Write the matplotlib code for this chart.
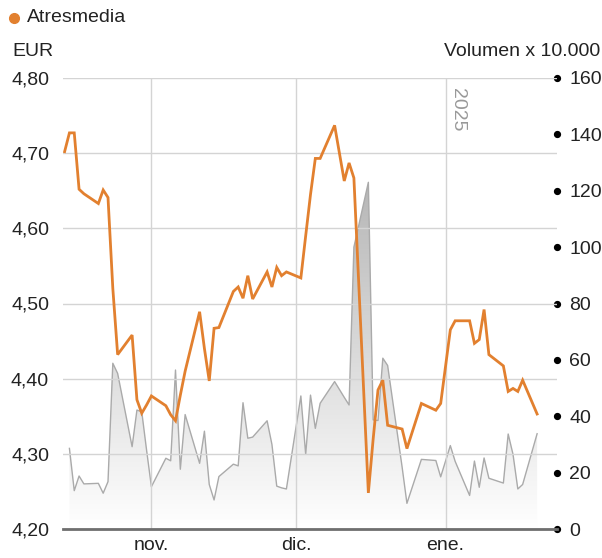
import matplotlib
matplotlib.use('Agg')
import matplotlib.pyplot as plt
import matplotlib.dates as mdates
from matplotlib.colors import LinearSegmentedColormap
from matplotlib.lines import Line2D
import numpy as np
import pandas as pd

plt.rcParams['font.family'] = ['Liberation Sans', 'DejaVu Sans']

# trading days shown
days = [
    '2024-10-14', '2024-10-15', '2024-10-16', '2024-10-17', '2024-10-18',
    '2024-10-21', '2024-10-22', '2024-10-23', '2024-10-24', '2024-10-25',
    '2024-10-28', '2024-10-29', '2024-10-30', '2024-10-31', '2024-11-01',
    '2024-11-04', '2024-11-05', '2024-11-06', '2024-11-07', '2024-11-08',
    '2024-11-11', '2024-11-12', '2024-11-13', '2024-11-14', '2024-11-15',
    '2024-11-18', '2024-11-19', '2024-11-20', '2024-11-21', '2024-11-22',
    '2024-11-25', '2024-11-26', '2024-11-27', '2024-11-28', '2024-11-29',
    '2024-12-02', '2024-12-03', '2024-12-04', '2024-12-05', '2024-12-06',
    '2024-12-09', '2024-12-10', '2024-12-11', '2024-12-12', '2024-12-13',
    '2024-12-16', '2024-12-17', '2024-12-18', '2024-12-19', '2024-12-20',
    '2024-12-23', '2024-12-24', '2024-12-27', '2024-12-30', '2024-12-31',
    '2025-01-02', '2025-01-03', '2025-01-06', '2025-01-07', '2025-01-08',
    '2025-01-09', '2025-01-10', '2025-01-13', '2025-01-14', '2025-01-15',
    '2025-01-16', '2025-01-17', '2025-01-20',
]
# closing price, EUR
price = [
    4.702, 4.727, 4.727, 4.652, 4.646, 4.633, 4.651, 4.641, 4.520, 4.432,
    4.458, 4.372, 4.354, 4.365, 4.377, 4.364, 4.352, 4.344, 4.378, 4.410,
    4.489, 4.440, 4.397, 4.467, 4.468, 4.516, 4.522, 4.507, 4.537, 4.506,
    4.542, 4.522, 4.548, 4.537, 4.542, 4.534, 4.590, 4.645, 4.693, 4.693,
    4.737, 4.700, 4.663, 4.687, 4.667, 4.248, 4.320, 4.385, 4.398, 4.338,
    4.333, 4.307, 4.367, 4.358, 4.367, 4.465, 4.477, 4.477, 4.447, 4.452,
    4.492, 4.432, 4.417, 4.383, 4.387, 4.383, 4.398, 4.353,
]
# volume x 10.000 (first day not shown)
volume = [
    np.nan, 28.6, 13.6, 18.8, 16.0, 16.2, 12.7, 16.8, 58.8, 55.2,
    29.2, 42.2, 41.6, 28.0, 15.0, 25.1, 24.2, 56.4, 21.2, 40.6,
    23.3, 34.7, 15.8, 10.3, 18.6, 23.0, 22.4, 44.8, 32.2, 32.6,
    38.4, 30.0, 15.2, 14.6, 14.2, 47.2, 26.5, 47.5, 35.7, 44.6,
    52.3, 49.5, 46.7, 44.0, 100.0, 123.0, 38.7, 38.5, 60.6, 58.0,
    22.0, 9.1, 24.7, 24.3, 18.5, 29.6, 24.0, 11.9, 24.1, 14.8,
    25.2, 18.0, 16.3, 33.7, 26.5, 14.2, 15.8, 33.8,
]
price_ticks = [4.2, 4.3, 4.4, 4.5, 4.6, 4.7, 4.8]
price_labels = ['4,20', '4,30', '4,40', '4,50', '4,60', '4,70', '4,80']
vol_ticks = [0, 20, 40, 60, 80, 100, 120, 140, 160]
month_ticks = ['2024-11-01', '2024-12-01', '2025-01-01']
month_labels = ['nov.', 'dic.', 'ene.']

x = pd.to_datetime(days)
orange = '#e2802f'
fs = 14

fig = plt.figure(figsize=(6.02, 5.58), dpi=100)
ax = fig.add_axes([63 / 602, 1 - 529 / 558, (557 - 63) / 602, (529 - 78) / 558])
ax2 = ax.twinx()
ax.set_zorder(ax2.get_zorder() + 1)
ax.patch.set_visible(False)

x0 = mdates.date2num(pd.Timestamp('2024-10-13 16:00'))
x1 = mdates.date2num(pd.Timestamp('2025-01-24 03:00'))

# volume area with vertical grey gradient
poly = ax2.fill_between(x, volume, 0, color='none', lw=0)
grad = np.linspace(1, 0, 256).reshape(-1, 1)
cmap = LinearSegmentedColormap.from_list('vol', ['#ffffff', '#a0a0a0'])
img = ax2.imshow(grad, cmap=cmap, extent=[x0, x1, 0, 160], aspect='auto',
                 origin='upper', zorder=1, interpolation='bilinear')
img.set_clip_path(poly.get_paths()[0], transform=ax2.transData)
ax2.plot(x, volume, color='#aaaaaa', lw=1.0, zorder=2)

ax.plot(x, price, color=orange, lw=2.0, zorder=5, solid_joinstyle='miter')

ax.set_xlim(x0, x1)
ax2.set_xlim(x0, x1)
ax.set_ylim(4.2, 4.8)
ax2.set_ylim(0, 160)

ax.set_yticks(price_ticks)
ax.set_yticklabels(price_labels)
ax.tick_params(axis='y', length=0, pad=10, labelsize=fs, labelcolor='#222222')
ax.grid(axis='y', color='#d4d4d4', lw=1.0)

mt = pd.to_datetime(month_ticks)
ax.set_xticks(mt)
ax.set_xticklabels(month_labels)
ax.tick_params(axis='x', length=0, pad=6, labelsize=fs, labelcolor='#222222')
ax.grid(axis='x', color='#d4d4d4', lw=1.0)

ax2.set_yticks(vol_ticks)
ax2.set_yticklabels([str(v) for v in vol_ticks])
ax2.tick_params(axis='y', length=0, pad=9, labelsize=fs, labelcolor='#222222')
ax2.plot(np.ones(len(vol_ticks)), vol_ticks, 'o', ms=4.2, color='black',
         transform=ax2.get_yaxis_transform(), clip_on=False, zorder=10)

for a in (ax, ax2):
    for s in ('top', 'left', 'right', 'bottom'):
        a.spines[s].set_visible(False)
ax.spines['bottom'].set_visible(True)
ax.spines['bottom'].set_color('#6e6e6e')
ax.spines['bottom'].set_linewidth(2.0)

ax.text(mdates.date2num(pd.Timestamp('2025-01-03 12:00')), 4.787, '2025',
        rotation=270, ha='center', va='top', fontsize=fs, color='#999999')

fig.add_artist(Line2D([14 / 602], [1 - 18 / 558], marker='o', ms=7,
                      color=orange, transform=fig.transFigure))
fig.text(27 / 602, 1 - 18 / 558, 'Atresmedia', ha='left', va='center',
         fontsize=fs, color='#222222')
fig.text(12 / 602, 1 - 52 / 558, 'EUR', ha='left', va='center',
         fontsize=fs, color='#222222')
fig.text(600 / 602, 1 - 52 / 558, 'Volumen x 10.000', ha='right', va='center',
         fontsize=fs, color='#222222')

fig.savefig('out.png', dpi=100)
